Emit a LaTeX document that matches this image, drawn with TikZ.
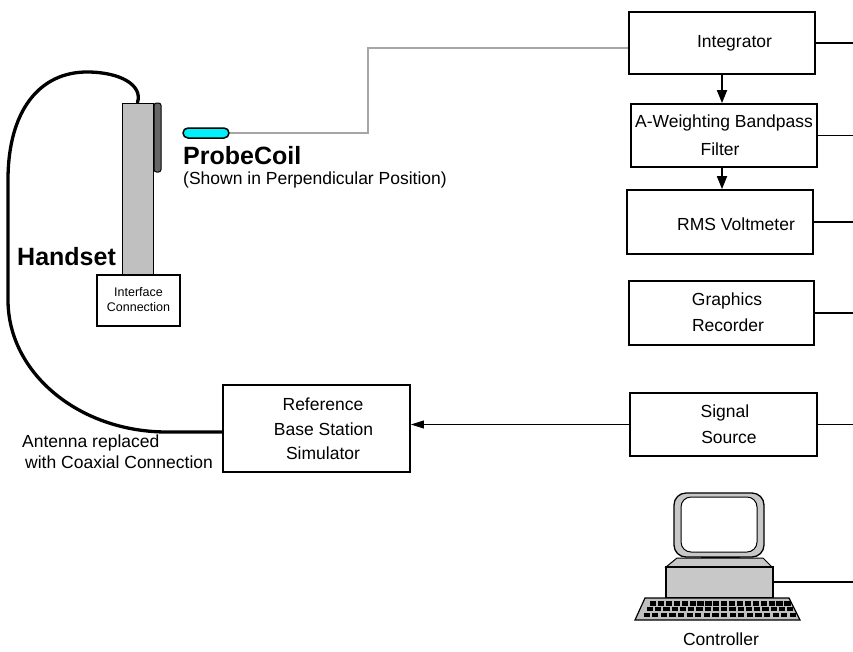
\documentclass[tikz,border=0pt]{standalone}
\usepackage{fontspec}
\setmainfont{Liberation Sans}
\usetikzlibrary{arrows.meta}
\definecolor{probecyan}{RGB}{0,240,250}
\definecolor{hsgray}{RGB}{192,192,192}
\definecolor{pcgray}{RGB}{200,200,200}
\begin{document}
\begin{tikzpicture}[x=1pt,y=-1pt,
  box/.style={draw, line width=1.8pt, fill=white, inner sep=0pt},
  lbl/.style={font=\fontsize{17.5}{21}\selectfont, inner sep=0pt},
  small/.style={font=\fontsize{12.5}{15}\selectfont, inner sep=0pt, align=center},
  big/.style={font=\fontsize{25}{29}\selectfont\bfseries, inner sep=0pt},
  wire/.style={line width=1.5pt},
  flow/.style={line width=1.8pt, -{Triangle[length=13pt,width=10pt]}},
  thinflow/.style={line width=0.8pt, -{Triangle[length=13pt,width=8pt]}},
  coax/.style={draw=black!65, double=black!35, double distance=1.3pt, line width=0.8pt},
  cable/.style={line width=3.3pt, line cap=round}]
\useasboundingbox (0,0) rectangle (853,651);

% ---------- boxes on the right ----------
\node[box, minimum width=186, minimum height=62] (int) at (722,43) {};
\node[lbl] (intT) at (734.5,43) {Integrator};
\node[box, minimum width=186, minimum height=63] (aw) at (724,135.5) {};
\node[lbl] (awT1) at (724,123) {A-Weighting Bandpass};
\node[lbl] (awT2) at (720,149) {Filter};
\node[box, minimum width=186, minimum height=64] (rms) at (720,222) {};
\node[lbl] (rmsT) at (736,224) {RMS Voltmeter};
\node[box, minimum width=185, minimum height=64] (gr) at (721.5,313) {};
\node[lbl] (grT1) at (727,301) {Graphics};
\node[lbl] (grT2) at (728,325) {Recorder};
\node[box, minimum width=187, minimum height=63] (sig) at (723.5,424.5) {};
\node[lbl] (sigT1) at (725,413) {Signal};
\node[lbl] (sigT2) at (729,437) {Source};

% reference base station simulator
\node[box, minimum width=187, minimum height=87] (ref) at (316.5,428.5) {};
\node[lbl] (refT1) at (323,404) {Reference};
\node[lbl] (refT2) at (323.5,429) {Base Station};
\node[lbl] (refT3) at (323,453) {Simulator};

% lines to right edge
\coordinate (e1) at (853,43);
\coordinate (e2) at (853,135.5);
\coordinate (e3) at (853,222);
\coordinate (e4) at (853,313);
\coordinate (e5) at (853,424.5);
\coordinate (e6) at (853,582);
\draw[wire] (int.east) -- (e1);
\draw[wire] (aw.east) -- (e2);
\draw[wire] (rms.east) -- (e3);
\draw[wire] (gr.east) -- (e4);
\draw[wire] (sig.east) -- (e5);

% arrows
\draw[flow] (int.south) -- (int.south |- aw.north);
\draw[flow] (aw.south -| int.south) -- (int.south |- rms.north);
\draw[thinflow] (sig.west) -- (sig.west -| ref.east);

% ---------- handset ----------
\node[draw, line width=1pt, fill=hsgray, minimum width=31, minimum height=172, inner sep=0pt] (hs) at (137.5,189) {};
\node[draw, line width=1pt, fill=black!60, rounded corners=2.5pt, minimum width=7, minimum height=69, inner sep=0pt] (strip) at (157.5,137.5) {};
\node[box, line width=1.6pt, minimum width=83, minimum height=51] (iface) at (138.5,300.5) {};
\node[small] (ifaceT) at (138.5,300) {Interface\\Connection};

\node[big, anchor=west] (hsT) at (17,257) {Handset};

% cable
\coordinate (cabEnd) at (226,432);
\draw[cable] (hs.north) .. controls (143,85) and (120,72) .. (87,72)
  .. controls (40,72) and (8,110) .. (8,180) -- (8,300)
  .. controls (8,373) and (79,432) .. (167,432) -- (ref.west |- cabEnd);

\node[lbl, anchor=west] (ant1) at (22,443) {Antenna replaced};
\node[lbl, anchor=west] (ant2) at (25,462) {with Coaxial Connection};

% ---------- probe coil ----------
\node[draw, line width=1.5pt, fill=probecyan, rounded corners=5pt, minimum width=46, minimum height=10, inner sep=0pt] (probe) at (206,133) {};
\coordinate (c1) at (368,133);
\coordinate (c2) at (368,48);
\draw[coax] (probe.east) -- (c1) -- (c2) -- (c2 -| int.west);
\node[big, anchor=base west] (probeT) at (183,164.5) {ProbeCoil};
\node[lbl, anchor=base west] (probeT2) at (183,184) {(Shown in Perpendicular Position)};

% ---------- controller (computer) ----------
% monitor
\filldraw[line width=1.3pt, fill=pcgray, rounded corners=12pt] (674,493) rectangle (764,557);
\filldraw[line width=1pt, fill=white, rounded corners=10pt] (681,497) rectangle (757,552);
\filldraw[line width=1pt, fill=pcgray] (701,557) rectangle (739,563);
% base
\filldraw[line width=1pt, fill=pcgray] (677,558) -- (763,558) -- (772,567) -- (666,567) -- cycle;
\filldraw[line width=1.3pt, fill=pcgray] (666,567) rectangle (773,598);
\coordinate (pcPort) at (773,582);
\draw[wire] (pcPort) -- (e6);
% keyboard
\filldraw[line width=1.2pt, fill=black!25] (645,598) -- (789,598) -- (800,620) -- (635,620) -- cycle;
\foreach \r in {0,1,2} {
  \foreach \k in {0,...,17} {
    \fill[black] ({650-\r*3.2+\k*(7.9+0.35*\r)}, {601+\r*5.8}) rectangle ++(6.2,4.6);
  }
}
\node[lbl] (pcT) at (721,639.5) {Controller};
\end{tikzpicture}
\end{document}
